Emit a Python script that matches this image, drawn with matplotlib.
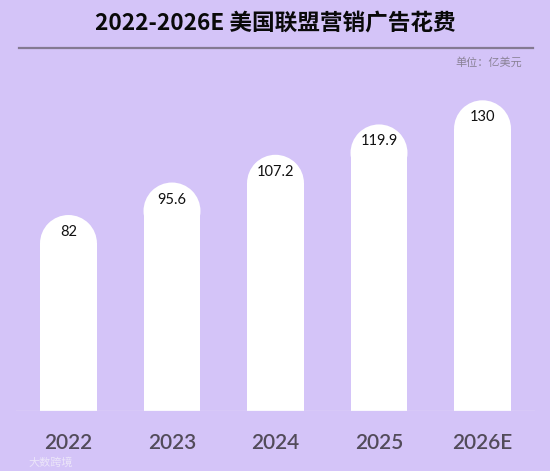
import matplotlib.pyplot as plt
from matplotlib.patches import Ellipse
from matplotlib.lines import Line2D

years = ['2022', '2023', '2024', '2025', '2026E']
spend = [82, 95.6, 107.2, 119.9, 130]

BG = '#d4c4f8'
BAR_W = 0.55
Y_MAX = 140
X_MIN, X_MAX = -0.507, 4.507

plt.rcParams['font.family'] = ['Lato', 'Noto Sans CJK SC', 'DejaVu Sans']

fig = plt.figure(figsize=(5.5, 4.71), dpi=100, facecolor=BG)
ax_w_px, ax_h_px = 519, 334.6
ax = fig.add_axes([16/550, 60/471, ax_w_px/550, ax_h_px/471])
ax.set_facecolor(BG)
ax.set_xlim(X_MIN, X_MAX)
ax.set_ylim(0, Y_MAX)

# pixel sizes per data unit, so the bar tops come out as true semicircles
px_x = ax_w_px / (X_MAX - X_MIN)
px_y = ax_h_px / Y_MAX
r_y = BAR_W * px_x / 2 / px_y

for i, v in enumerate(spend):
    ax.bar(i, v - r_y, width=BAR_W, color='white', linewidth=0)
    ax.add_patch(Ellipse((i, v - r_y), BAR_W, 2 * r_y, color='white', linewidth=0))
    ax.text(i, v - 17 / px_y, f'{v:g}', ha='center', va='center',
            fontsize=10.5, color='#111111', family=['Lato', 'DejaVu Sans'])

ax.axhline(0, color='#e4dcf6', linewidth=1)
ax.set_xticks(range(len(years)))
ax.set_xticklabels(years, fontsize=15, color='#524b5a', fontweight='semibold')
ax.tick_params(axis='x', length=0, pad=16)
ax.set_yticks([])
for s in ax.spines.values():
    s.set_visible(False)

fig.text(275/550, 1 - 23/471, '2022-2026E 美国联盟营销广告花费', ha='center', va='center',
         fontsize=16.3, fontweight='bold', color='#0a0a0a',
         family=['Noto Sans CJK SC', 'DejaVu Sans'])
fig.add_artist(Line2D([19/550, 533/550], [1 - 48/471, 1 - 48/471],
                      color='#847a92', linewidth=1.6))
fig.text(522/550, 1 - 62/471, '单位：亿美元', ha='right', va='center',
         fontsize=8, style='italic', color='#8a8296',
         family=['Noto Sans CJK SC', 'DejaVu Sans'])
fig.text(28/550, 1 - 463/471, '大数跨境', ha='left', va='center',
         fontsize=8, color='#ebe5f8', family=['Noto Sans CJK SC', 'DejaVu Sans'])

fig.savefig('out.png', dpi=100, facecolor=BG)
